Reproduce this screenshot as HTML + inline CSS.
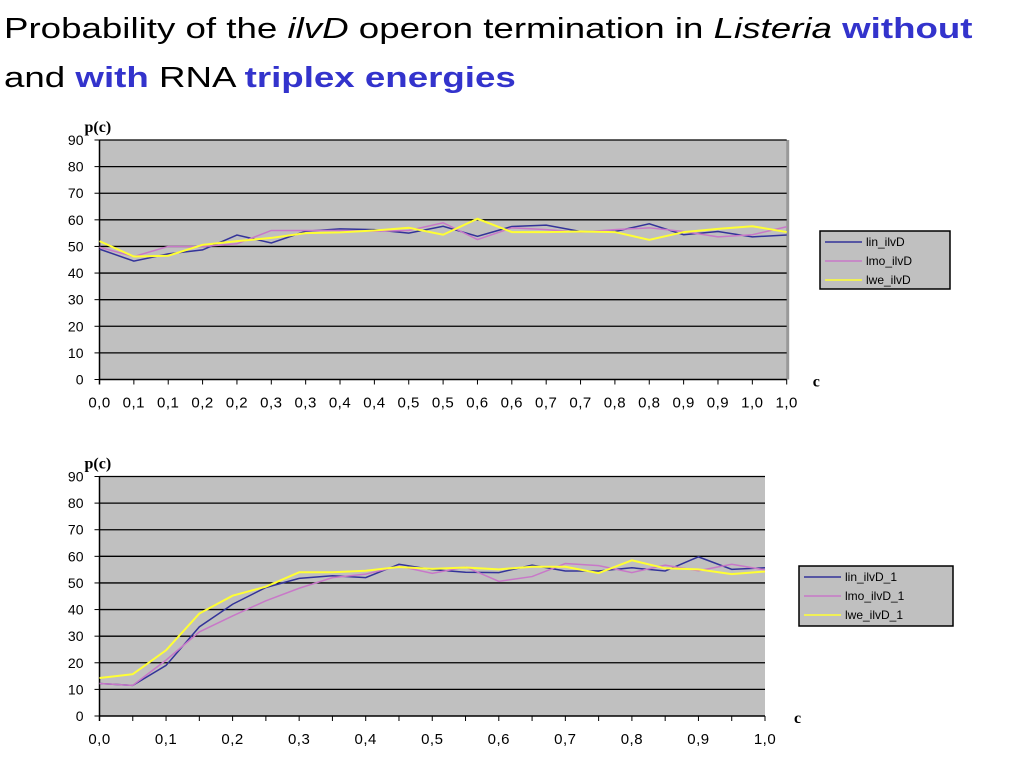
<!DOCTYPE html>
<html><head><meta charset="utf-8"><style>
body{margin:0;width:1024px;height:768px;background:#fff;overflow:hidden;position:relative;font-family:"Liberation Sans",sans-serif}
.t{position:absolute;left:4px;font-size:29px;color:#000;white-space:nowrap;transform:scaleX(1.265);transform-origin:0 0}
.b{color:#3333cc;font-weight:bold}
svg{position:absolute;left:0;top:0}
</style></head><body>
<div class="t" style="top:13px">Probability of the <i>ilvD</i> operon termination in <i>Listeria</i> <span class="b">without</span></div>
<div class="t" style="top:62px">and <span class="b">with</span> RNA <span class="b">triplex energies</span></div>
<svg id="s" width="1024" height="768"></svg>
<script>
const topLin=[49,44.5,47.2,48.7,54.3,51.3,55.7,56.6,56.3,55,57.6,53.8,57.5,58,55.6,55.6,58.5,54.4,55.6,53.6,54.3];
const topMo=[49.7,46.2,50,50,51,56,56,56,55.7,56,58.9,52.6,57,56.3,55.4,56.3,57,55.6,53.6,54.4,57.4];
const topWe=[52,46.2,46.5,50.6,52,53.2,55,55.3,56,57,54.4,60.4,55.4,55.4,55.6,55.4,52.5,55.4,56.6,57.6,55.4];
const topTicks=["0,0","0,1","0,1","0,2","0,2","0,3","0,3","0,4","0,4","0,5","0,5","0,6","0,6","0,7","0,7","0,8","0,8","0,9","0,9","1,0","1,0"];
const botLin=[12.2,11.5,19,33.5,42,48.3,51.7,52.7,52,57,55,54,53.9,56.7,54.5,54.5,55.7,54.5,59.8,55.1,55.7];
const botMo=[12.2,11.5,21,31.6,37.6,43.3,48,52,53.3,56.3,53.6,56,50.6,52.4,57.3,56.5,53.9,56.7,54.6,57,54.9];
const botWe=[14.3,15.7,24.7,38.5,45.2,48.6,54,54,54.6,56,55.3,55.8,55.1,56.1,56.1,53.7,58.5,55.5,55.1,53.3,54.3];
const botTicks=["0,0","0,1","0,2","0,3","0,4","0,5","0,6","0,7","0,8","0,9","1,0"];
const yTicks=[0,10,20,30,40,50,60,70,80,90];
const names1=["lin_ilvD","lmo_ilvD","lwe_ilvD"];
const names2=["lin_ilvD_1","lmo_ilvD_1","lwe_ilvD_1"];
const colors=["#333399","#c878c8","#ffff33"];
const S=document.getElementById('s');
const NS="http://www.w3.org/2000/svg";
function mk(t,a,txt){const e=document.createElementNS(NS,t);for(const k in a)e.setAttribute(k,a[k]);if(txt!=null)e.textContent=txt;S.appendChild(e);return e;}
function chart(p){
  const x=i=>p.x0+(p.x1-p.x0)*i/20;
  const y=v=>p.y0-(p.y0-p.y1)*v/90;
  let e=mk('rect',{x:p.x0,y:p.y1,width:p.x1-p.x0,height:p.y0-p.y1,fill:'#c0c0c0'});
  
  
  if(p.border){e=mk('line',{x1:p.x1+1,y1:p.y1,x2:p.x1+1,y2:p.y0,stroke:'#999',"stroke-width":3});}
  yTicks.forEach(v=>{
    if(v>0){e=mk('line',{x1:p.x0,y1:y(v),x2:p.x1,y2:y(v),stroke:'#000',"stroke-width":1.3});
    
    }
    mk('line',{x1:p.x0-5,y1:y(v),x2:p.x0,y2:y(v),stroke:'#000'});
    e=mk('text',{x:p.x0-16,y:y(v)+5,"text-anchor":"end","font-size":14,fill:'#000'},v);
    
    
  });
  mk('line',{x1:p.x0,y1:p.y1,x2:p.x0,y2:p.y0+5,stroke:'#000',"stroke-width":1.5});
  mk('line',{x1:p.x0,y1:p.y0,x2:p.x1,y2:p.y0,stroke:'#000',"stroke-width":1.5});
  for(let i=0;i<=20;i++)mk('line',{x1:x(i),y1:p.y0,x2:x(i),y2:p.y0+5,stroke:'#000'});
  p.ticks.forEach((t,i)=>{
    const xi=p.ticks.length===21?i:i*2;
    e=mk('text',{x:x(xi),y:p.y0+28,"text-anchor":"middle","font-size":15,fill:'#000',"letter-spacing":"0.5"},t);
    
    
  });
  e=mk('text',{x:p.x0-15,y:p.y1-8,"font-size":16,"font-weight":"bold","font-family":"Liberation Serif,serif"},'p(c)');
  
  
  e=mk('text',{x:p.x1+p.cdx,y:p.y0+7,"font-size":16,"font-weight":"bold","font-family":"Liberation Serif,serif"},'c');
  
  
  p.series.forEach((d,k)=>{
    e=mk('polyline',{points:d.map((v,i)=>x(i)+','+y(v)).join(' '),fill:'none',stroke:colors[k],"stroke-width":k===2?2:1.5});
    
    
  });
  const L=p.leg;
  e=mk('rect',{x:L.x,y:L.y,width:L.w,height:L.h,fill:'#c0c0c0',stroke:'#000',"stroke-width":1.5});
  
  
  p.names.forEach((n,k)=>{
    const yy=L.y+11+k*19;
    mk('line',{x1:L.x+5,y1:yy,x2:L.x+42,y2:yy,stroke:colors[k],"stroke-width":1.5});
    e=mk('text',{x:L.x+46,y:yy+4,"font-size":12},n);
    
    
  });
}
chart({id:'top',x0:99.5,x1:786.7,y0:379.5,y1:140,ticks:topTicks,series:[topLin,topMo,topWe],names:names1,border:true,cdx:26,leg:{x:820,y:231,w:130,h:58}});
chart({id:'bottom',x0:99.5,x1:765,y0:716,y1:476.5,ticks:botTicks,series:[botLin,botMo,botWe],names:names2,border:false,cdx:29,leg:{x:799,y:566,w:154,h:60}});
</script>
</body></html>
